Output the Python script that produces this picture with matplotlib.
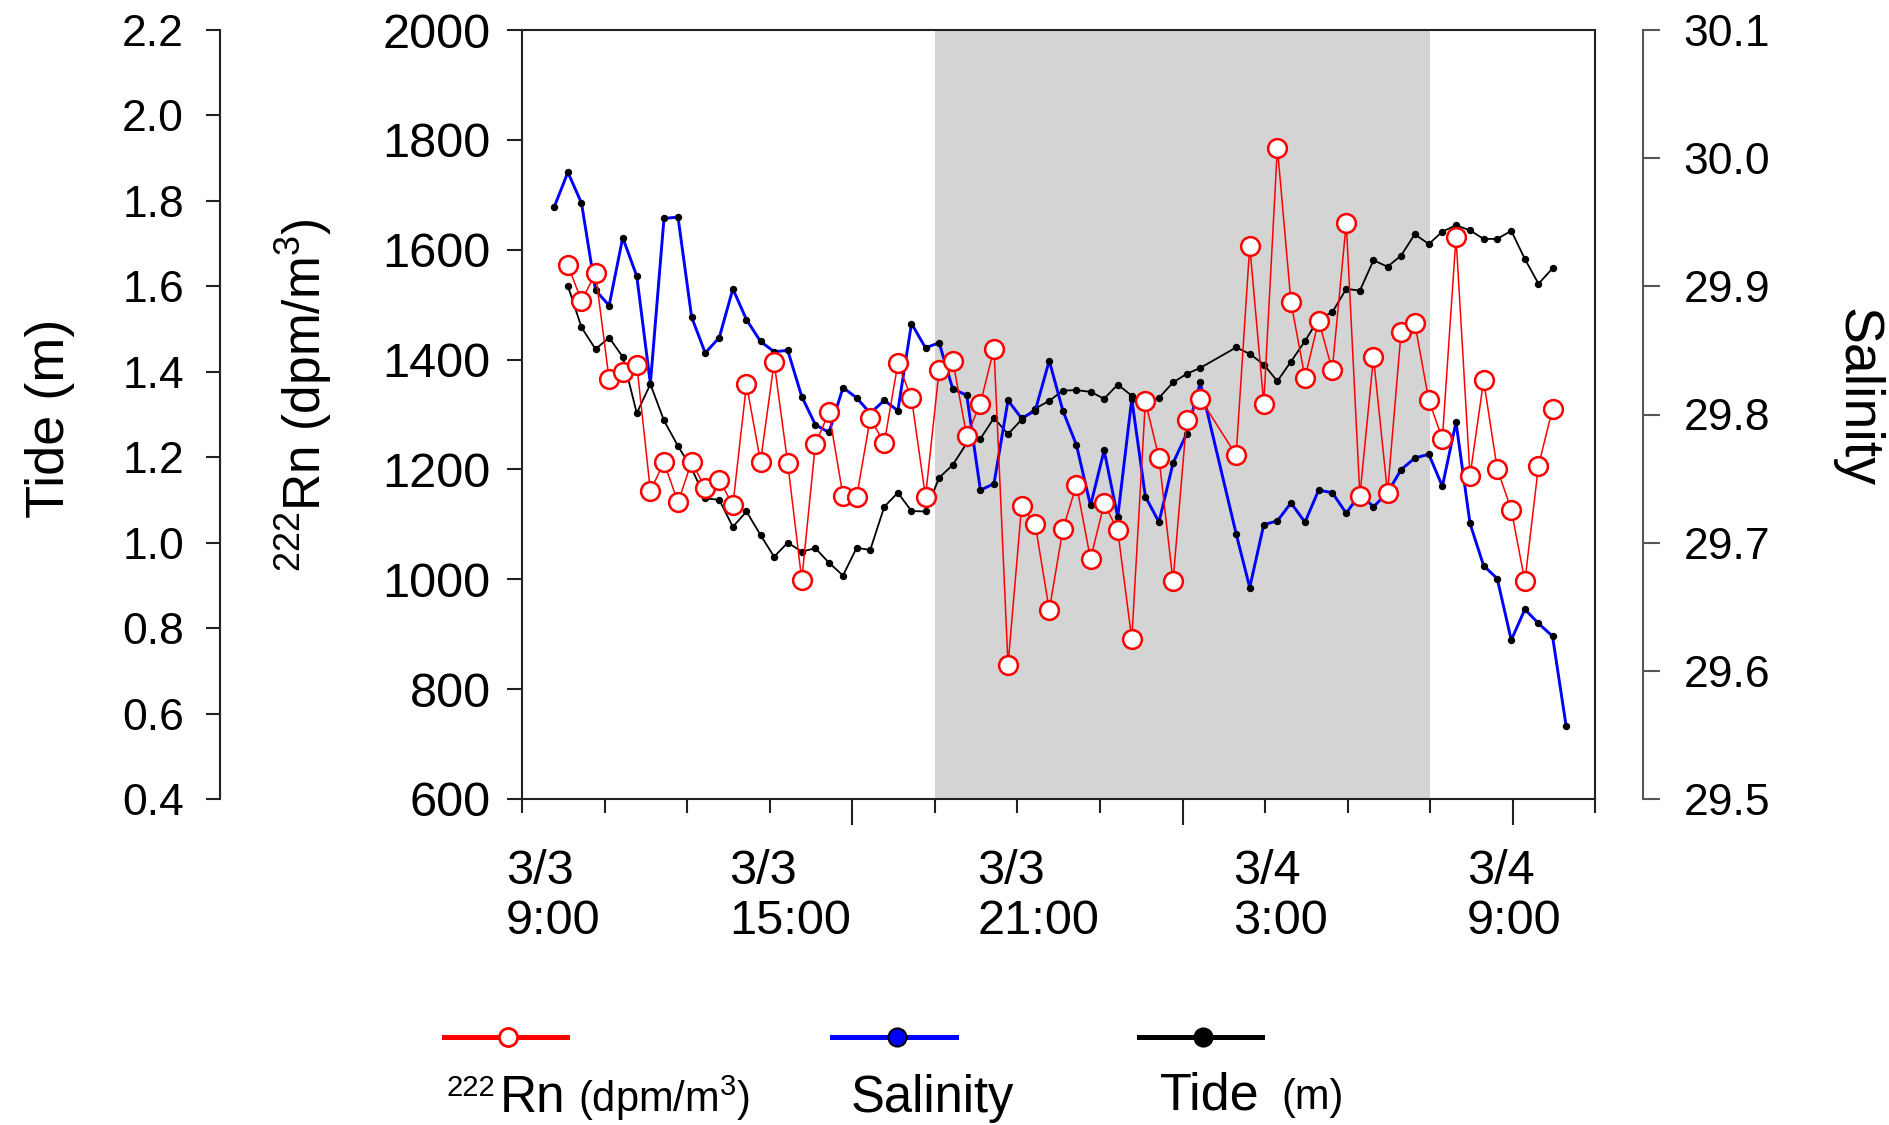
import matplotlib
matplotlib.use("Agg")
import matplotlib.pyplot as plt
from matplotlib.lines import Line2D

plt.rcParams['font.family'] = ['Liberation Sans', 'DejaVu Sans']
plt.rcParams['mathtext.fontset'] = 'custom'
plt.rcParams['mathtext.rm'] = 'Liberation Sans'
plt.rcParams['mathtext.it'] = 'Liberation Sans'

# ---------------- data (hours after 3/3 00:00) ----------------
time_h = [9.77, 10.10, 10.43, 10.77, 11.10, 11.43, 11.77, 12.10, 12.43, 12.77,
          13.10, 13.43, 13.77, 14.10, 14.43, 14.77, 15.10, 15.43, 15.77, 16.10,
          16.43, 16.77, 17.10, 17.43, 17.77, 18.10, 18.43, 18.77, 19.10, 19.43,
          19.77, 20.10, 20.43, 20.77, 21.10, 21.43, 21.77, 22.10, 22.43, 22.77,
          23.10, 23.43, 23.77, 24.10, 24.43, 24.77, 25.10, 25.43, 26.30, 26.63,
          26.97, 27.30, 27.63, 27.97, 28.30, 28.63, 28.97, 29.30, 29.63, 29.97,
          30.30, 30.63, 30.97, 31.30, 31.63, 31.97, 32.30, 32.63, 32.97, 33.30,
          33.63, 33.97, 34.30]

salinity = [29.962, 29.989, 29.965, 29.897, 29.885, 29.938, 29.908, 29.824, 29.953, 29.954,
            29.876, 29.848, 29.860, 29.898, 29.874, 29.857, 29.849, 29.850, 29.814, 29.792,
            29.786, 29.821, 29.813, 29.801, 29.811, 29.803, 29.871, 29.852, 29.856, 29.820,
            29.815, 29.741, 29.746, 29.811, 29.797, 29.803, 29.842, 29.803, 29.776, 29.729,
            29.772, 29.720, 29.812, 29.736, 29.716, 29.762, 29.785, 29.825, 29.707, 29.665,
            29.714, 29.717, 29.731, 29.716, 29.741, 29.739, 29.723, 29.738, 29.728, 29.739,
            29.757, 29.766, 29.769, 29.744, 29.794, 29.715, 29.682, 29.672, 29.624, 29.648,
            29.637, 29.627, 29.557]

# tide and radon are sampled at time_h[1:72]
tide = [1.601, 1.504, 1.453, 1.480, 1.435, 1.303, 1.371, 1.286, 1.226, 1.174,
        1.104, 1.100, 1.037, 1.073, 1.018, 0.967, 1.000, 0.979, 0.987, 0.953,
        0.923, 0.988, 0.983, 1.084, 1.117, 1.074, 1.073, 1.152, 1.182, 1.233,
        1.243, 1.292, 1.254, 1.288, 1.314, 1.332, 1.356, 1.357, 1.353, 1.337,
        1.370, 1.344, 1.326, 1.339, 1.375, 1.395, 1.409, 1.457, 1.442, 1.417,
        1.378, 1.424, 1.472, 1.524, 1.539, 1.594, 1.590, 1.661, 1.646, 1.672,
        1.722, 1.699, 1.728, 1.743, 1.731, 1.711, 1.711, 1.730, 1.664, 1.606,
        1.642]

radon = [1572, 1507, 1557, 1364, 1378, 1391, 1161, 1213, 1140, 1214,
         1166, 1181, 1135, 1355, 1214, 1395, 1211, 999, 1246, 1304,
         1152, 1150, 1293, 1248, 1393, 1330, 1150, 1381, 1398, 1261,
         1320, 1420, 844, 1133, 1100, 944, 1091, 1172, 1037, 1138,
         1089, 891, 1324, 1221, 996, 1290, 1329, 1226, 1607, 1320,
         1786, 1504, 1367, 1471, 1381, 1649, 1152, 1404, 1157, 1451,
         1467, 1326, 1256, 1623, 1188, 1362, 1201, 1127, 996, 1207,
         1310]

night = (19.0, 31.0)
x_range = (9, 35)
x_minor_ticks = [9, 11, 13, 15, 19, 21, 23, 27, 29, 31, 35]
x_major_ticks = [17, 25, 33]
x_label_pos = [8.60, 14.02, 20.02, 26.22, 31.90]
x_labels = ["3/3\n9:00", "3/3\n15:00", "3/3\n21:00", "3/4\n3:00", "3/4\n9:00"]
rn_ticks = [600, 800, 1000, 1200, 1400, 1600, 1800, 2000]
tide_ticks = [0.4, 0.6, 0.8, 1.0, 1.2, 1.4, 1.6, 1.8, 2.0, 2.2]
sal_ticks = [29.5, 29.6, 29.7, 29.8, 29.9, 30.0, 30.1]

# ---------------- layout ----------------
W_PX, H_PX = 1890, 1125
def fx(px):
    return px / W_PX
def fy(py):
    return 1 - py / H_PX

fig = plt.figure(figsize=(18.9, 11.25), dpi=100)
L, R, T, B = 522.5, 1595, 30, 799
ax = fig.add_axes([fx(L), fy(B), (R - L) / W_PX, (B - T) / H_PX])
ax_t = ax.twinx()
ax_s = ax.twinx()
ax_t.set_zorder(1)
ax_s.set_zorder(2)
ax.set_zorder(3)
ax.patch.set_visible(False)

spc = '#222222'
t_sub = time_h[1:72]

# night shading
ax_t.axvspan(night[0], night[1], color='#D4D4D4', lw=0, zorder=0)

# tide
ax_t.plot(t_sub, tide, color='black', lw=1.3, marker='o', ms=4.3, mfc='black', mec='black', zorder=2)
# salinity
ax_s.plot(time_h, salinity, color='#0000FF', lw=2.1, marker='o', ms=4.3, mfc='black', mec='black', zorder=2)
# radon
ax.plot(t_sub, radon, color='#FF0000', lw=1.1, marker='o', ms=13.5, mfc='white', mec='#FF0000', mew=1.8, zorder=3)

# main axis
ax.set_xlim(*x_range)
ax.set_ylim(600, 2000)
ax.set_yticks(rn_ticks)
ax.set_xticks(x_major_ticks)
ax.set_xticks(x_minor_ticks, minor=True)
ax.tick_params(axis='x', which='both', labelbottom=False, direction='out', width=1.5, color=spc)
ax.tick_params(axis='x', which='major', length=19)
ax.tick_params(axis='x', which='minor', length=10)
ax.tick_params(axis='y', direction='out', length=11, width=1.5, pad=12, labelsize=35, color=spc)
for s in ax.spines.values():
    s.set_color(spc)
    s.set_linewidth(1.5)
for p, lab in zip(x_label_pos, x_labels):
    ax.text(p, -0.065, lab, transform=ax.get_xaxis_transform(), ha='left', va='top',
            fontsize=35, linespacing=1.13, multialignment='left')

# tide axis (offset left)
ax_t.set_ylim(0.4, 2.2)
ax_t.set_yticks(tide_ticks)
ax_t.set_yticklabels([f"{v:.1f}" for v in tide_ticks])
ax_t.yaxis.tick_left()
for k in ('top', 'bottom', 'right'):
    ax_t.spines[k].set_visible(False)
ax_t.spines['left'].set_position(('axes', (220 - L) / (R - L)))
ax_t.spines['left'].set_color(spc)
ax_t.spines['left'].set_linewidth(1.5)
ax_t.tick_params(axis='y', direction='out', length=10, width=1.5, pad=16, labelsize=32, color=spc)

# salinity axis (offset right)
ax_s.set_ylim(29.5, 30.1)
ax_s.set_yticks(sal_ticks)
ax_s.set_yticklabels([f"{v:.1f}" for v in sal_ticks], fontfamily='DejaVu Sans')
for k in ('top', 'bottom', 'left'):
    ax_s.spines[k].set_visible(False)
ax_s.spines['right'].set_position(('axes', (1643 - L) / (R - L)))
ax_s.spines['right'].set_color('#555555')
ax_s.spines['right'].set_linewidth(1.5)
ax_s.tick_params(axis='y', direction='out', length=12, width=1.5, pad=17, labelsize=32, color='#555555')

# axis titles
fig.text(fx(50), fy(418), "Tide (m)", rotation=90, ha='center', va='center', fontsize=39)
fig.text(fx(304), fy(395), r"$^{\mathrm{222}}$Rn (dpm/m$^{\mathrm{3}}$)", rotation=90,
         ha='center', va='center', fontsize=37)
fig.text(fx(1857), fy(398), "Salinity", rotation=-90, ha='center', va='center', fontsize=40)

# ---------------- legend (drawn below the chart) ----------------
ly = fy(1037)
def legend_entry(x0, x1, xm, color, mfc, mec, mew):
    fig.add_artist(Line2D([fx(x0), fx(x1)], [ly, ly], color=color, lw=3.6,
                          transform=fig.transFigure))
    fig.add_artist(Line2D([fx(xm)], [ly], ls='none', marker='o', ms=13, mfc=mfc, mec=mec,
                          mew=mew, transform=fig.transFigure))

legend_entry(443.6, 566.5, 507.5, '#FF0000', 'white', '#FF0000', 2.0)
legend_entry(831.7, 955.9, 896.8, '#0000FF', '#0000FF', 'black', 1.5)
legend_entry(1139, 1262, 1203, 'black', 'black', 'black', 1.5)

fig.text(fx(447), fy(1096), "222", fontsize=21, ha='left', va='baseline')
fig.text(fx(500), fy(1112), "Rn", fontsize=37, ha='left', va='baseline')
fig.text(fx(578), fy(1112), r"(dpm/m$^{\mathrm{3}}$)", fontsize=30, ha='left', va='baseline')
fig.text(fx(851), fy(1112), "Salinity", fontsize=36.5, ha='left', va='baseline')
fig.text(fx(1160), fy(1109), "Tide", fontsize=37.5, ha='left', va='baseline')
fig.text(fx(1281), fy(1109), "(m)", fontsize=30, ha='left', va='baseline')

fig.savefig("out.png", dpi=100, facecolor='white')
